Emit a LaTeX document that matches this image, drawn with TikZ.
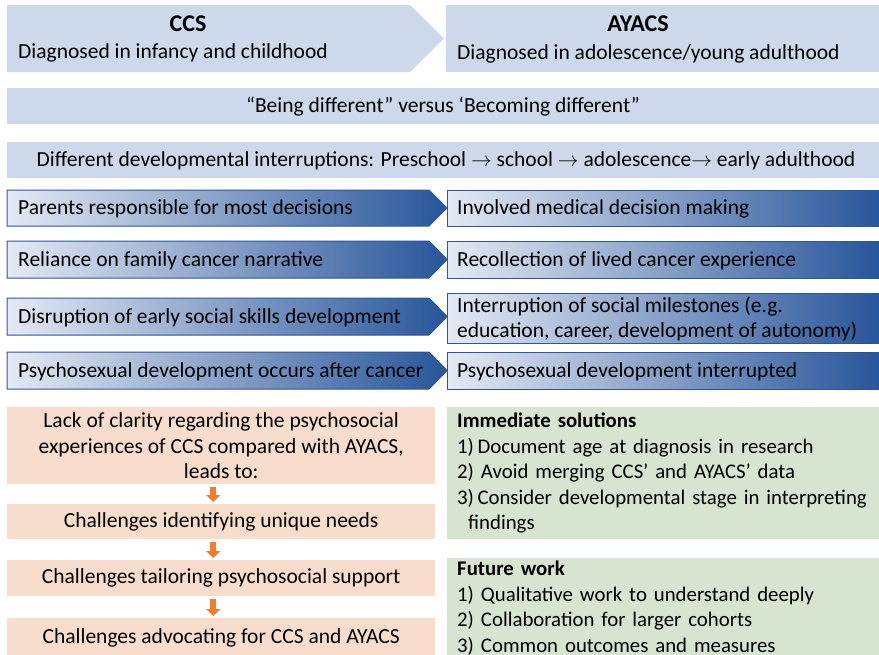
\documentclass[tikz,border=0pt]{standalone}
\usepackage{fontspec}
\setmainfont{Carlito}
\usetikzlibrary{arrows.meta,positioning,calc}

\definecolor{paleblue}{RGB}{205,217,234}
\definecolor{lightgrad}{RGB}{228,233,244}
\definecolor{darkgrad}{RGB}{40,86,154}
\definecolor{edgeblue}{RGB}{47,85,151}
\definecolor{peach}{RGB}{248,221,204}
\definecolor{sage}{RGB}{214,228,208}
\definecolor{arrorange}{RGB}{237,125,49}

\tikzset{
  txt/.style={font=\fontsize{21.5}{25.5}\selectfont, inner sep=0pt},
  headtext/.style={font=\fontsize{24}{28}\bfseries, inner sep=0pt},
  rowtext/.style={txt, anchor=west, align=left},
  gradfill/.style={left color=lightgrad, right color=darkgrad, draw=edgeblue, line width=1pt},
  peachbox/.style={txt, fill=peach, align=center, minimum width=428pt, anchor=north west},
  sagebox/.style={txt, font=\fontsize{20.8}{25.5}\selectfont, fill=sage, align=left, minimum width=440pt, anchor=north west, text width=430pt, inner xsep=10pt},
  flowarrow/.style={-{Triangle[width=14pt,length=7pt]}, line width=5.5pt, arrorange, shorten <=3pt, shorten >=2pt}
}

\begin{document}
\begin{tikzpicture}[x=1pt, y=-1pt]
    \clip (0,0) rectangle (879,654);
    \fill[white] (0,0) rectangle (879,654);

    % Header chevron and box
    \fill[paleblue] (7,5) -- (410,5) -- (444,38.5) -- (410,72) -- (7,72) -- cycle;
    \fill[paleblue] (446,5) rectangle (879,72);
    \node[headtext] (ccs) at (188,24) {CCS};
    \node[rowtext] (ccsdiag) at (18,53) {Diagnosed in infancy and childhood};
    \node[headtext] (ayacs) at (638,24) {AYACS};
    \node[rowtext] (ayacsdiag) at (457,54) {Diagnosed in adolescence/young adulthood};

    % Full width bars
    \fill[paleblue] (7,88) rectangle (879,124);
    \node[txt] (being) at (443,107) {“Being different” versus ‘Becoming different”};
    \fill[paleblue] (7,142) rectangle (879,178);
    \node[txt] (interrupt) at (446,161) {Different developmental interruptions: Preschool $\rightarrow$ school $\rightarrow$ adolescence$\rightarrow$ early adulthood};

    % Comparison rows
    \foreach \nm/\yt/\yb/\rt/\rb/\ltxt/\rtxt in {
        dec/190/226/190/226/{Parents responsible for most decisions}/{Involved medical decision making},
        narr/241/278/241/278/{Reliance on family cancer narrative}/{Recollection of lived cancer experience},
        soc/298/335/293/343/{Disruption of early social skills development}/{Interruption of social milestones (e.g.\\education, career, development of autonomy)},
        sex/352/389/352/389/{Psychosexual development occurs after cancer}/{Psychosexual development interrupted}
    }{
        \shade[gradfill] (447,\rt) rectangle (879,\rb);
        \shade[gradfill] (7,\yt) -- (429,\yt) -- (447,{(\yt+\yb)/2}) -- (429,\yb) -- (7,\yb) -- cycle;
        \node[rowtext] (\nm-l) at (18,{(\yt+\yb)/2+1}) {\ltxt};
        \node[rowtext] (\nm-r) at (457,{(\rt+\rb)/2+1}) {\rtxt};
    }

    % Consequences
    \node[peachbox, minimum height=77pt] (lack) at (7,407)
        {Lack of clarity regarding the psychosocial\\experiences of CCS compared with AYACS,\\leads to:};
    \node[peachbox, minimum height=35pt] (needs) at (7,504) {Challenges identifying unique needs};
    \node[peachbox, minimum height=36pt] (support) at (7,560) {Challenges tailoring psychosocial support};
    \node[peachbox, minimum height=40pt] (advocate) at (7,618) {Challenges advocating for CCS and AYACS};
    \draw[flowarrow] ([xshift=-8pt]lack.south) -- ([xshift=-8pt]needs.north);
    \draw[flowarrow] ([xshift=-8pt]needs.south) -- ([xshift=-8pt]support.north);
    \draw[flowarrow] ([xshift=-8pt]support.south) -- ([xshift=-8pt]advocate.north);

    % Solutions
    \node[sagebox, minimum height=132pt] (immediate) at (447,407)
        {\textbf{Immediate solutions}\\1)\,Document age at diagnosis in research\\2) Avoid merging CCS’ and AYACS’ data\\3)\,Consider developmental stage in interpreting\\\hspace*{11pt}findings};
    \node[sagebox, minimum height=100pt] (future) at (447,558)
        {\textbf{Future work}\\1) Qualitative work to understand deeply\\2) Collaboration for larger cohorts\\3) Common outcomes and measures};
\end{tikzpicture}
\end{document}
